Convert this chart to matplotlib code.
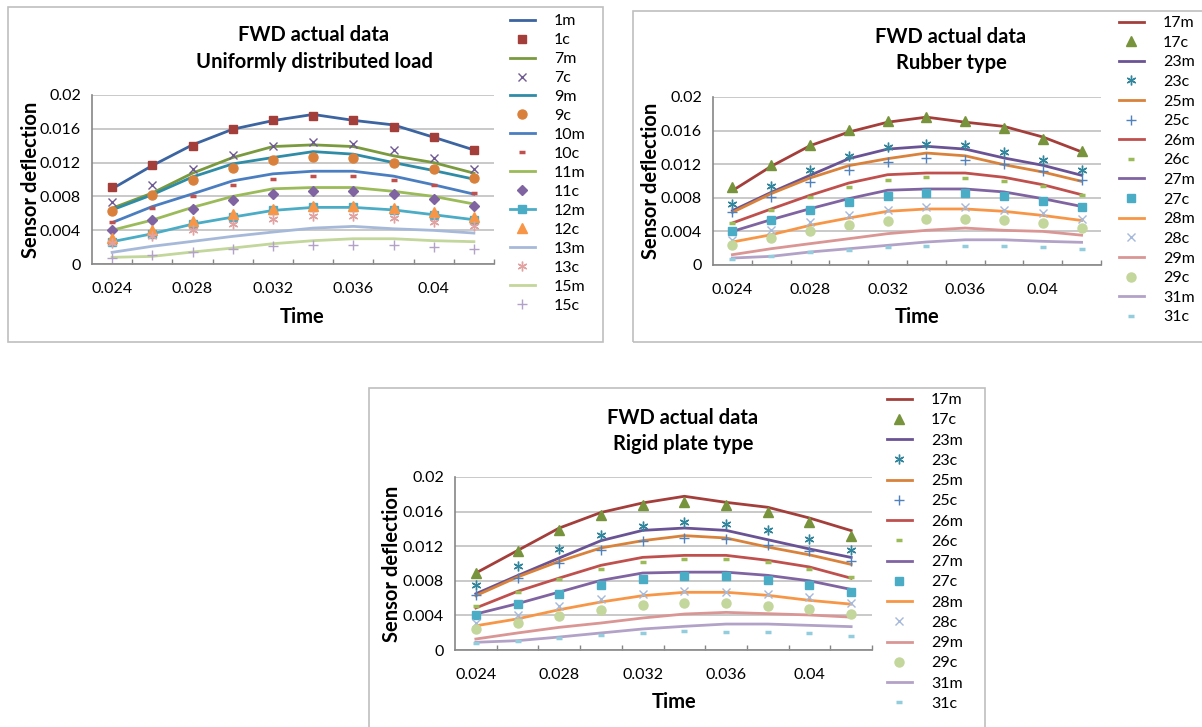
import numpy as np
import matplotlib.pyplot as plt
from matplotlib.patches import Rectangle

W, H = 1202, 727
plt.rcParams['font.family'] = ['Lato', 'DejaVu Sans']

times = [0.024, 0.026, 0.028, 0.030, 0.032, 0.034, 0.036, 0.038, 0.040, 0.042]
yticks = [0, 0.004, 0.008, 0.012, 0.016, 0.02]

# FWD actual data - uniformly distributed load (values in mm/1000 -> scaled below)
udl_1m = [8.9, 11.65, 14.1, 15.95, 16.97, 17.7, 17.0, 16.46, 15.0, 13.5]
udl_1c = [9.13, 11.7, 14.0, 15.95, 17.05, 17.5, 17.05, 16.26, 15.0, 13.5]
udl_7m = [6.6, 8.4, 10.75, 12.6, 13.9, 14.1, 13.9, 12.8, 12.0, 10.75]
udl_7c = [7.3, 9.4, 11.3, 12.9, 14.0, 14.4, 14.2, 13.5, 12.5, 11.3]
udl_9m = [6.4, 8.2, 10.3, 11.85, 12.6, 13.3, 13.0, 12.0, 11.06, 10.04]
udl_9c = [6.3, 8.15, 9.96, 11.4, 12.3, 12.7, 12.6, 12.0, 11.2, 10.15]
udl_10m = [4.9, 6.8, 8.3, 9.84, 10.67, 10.98, 10.98, 10.4, 9.37, 8.27]
udl_10c = [5.0, 6.6, 8.07, 9.33, 10.1, 10.47, 10.47, 9.96, 9.33, 8.46]
udl_11m = [4.0, 5.2, 6.7, 8.0, 8.9, 9.05, 9.05, 8.6, 8.0, 7.1]
udl_11c = [4.0, 5.2, 6.5, 7.56, 8.27, 8.6, 8.6, 8.27, 7.68, 6.9]
udl_12m = [2.64, 3.58, 4.72, 5.55, 6.34, 6.7, 6.7, 6.4, 5.83, 5.24]
udl_12c = [3.07, 4.0, 5.04, 5.9, 6.5, 6.9, 6.9, 6.6, 6.1, 5.55]
udl_13m = [1.38, 2.1, 2.68, 3.27, 3.78, 4.25, 4.45, 4.17, 3.98, 3.66]
udl_13c = [2.48, 3.27, 4.05, 4.76, 5.31, 5.63, 5.63, 5.43, 5.0, 4.45]
udl_15m = [0.79, 0.9, 1.42, 1.89, 2.4, 2.76, 2.99, 2.99, 2.76, 2.64]
udl_15c = [0.7, 1.1, 1.42, 1.77, 2.09, 2.2, 2.28, 2.2, 2.0, 1.77]

# FWD actual data - rubber type
rub_17m = [8.85, 11.75, 14.2, 15.83, 17.0, 17.6, 17.0, 16.5, 15.24, 13.47]
rub_17c = [9.25, 11.87, 14.25, 16.1, 17.2, 17.58, 17.2, 16.3, 15.0, 13.55]
rub_23m = [6.47, 8.65, 10.67, 12.66, 13.8, 14.13, 13.8, 12.74, 11.87, 10.68]
rub_23c = [7.26, 9.37, 11.27, 13.0, 14.0, 14.4, 14.25, 13.5, 12.54, 11.3]
rub_25m = [6.27, 8.5, 10.36, 11.83, 12.66, 13.33, 13.0, 11.94, 11.07, 9.96]
rub_25c = [6.27, 8.1, 9.88, 11.35, 12.22, 12.74, 12.54, 12.02, 11.15, 10.1]
rub_26m = [5.0, 6.67, 8.3, 9.76, 10.75, 10.95, 10.95, 10.44, 9.56, 8.37]
rub_26c = [5.0, 6.5, 8.05, 9.25, 10.1, 10.48, 10.36, 9.96, 9.37, 8.37]
rub_27m = [4.0, 5.4, 6.7, 7.9, 8.9, 9.05, 9.05, 8.7, 7.9, 6.97]
rub_27c = [4.0, 5.3, 6.5, 7.5, 8.25, 8.53, 8.53, 8.17, 7.66, 6.9]
rub_28m = [2.74, 3.6, 4.72, 5.6, 6.39, 6.67, 6.67, 6.39, 5.9, 5.3]
rub_28c = [3.0, 4.13, 5.12, 6.0, 6.6, 6.87, 6.87, 6.6, 6.2, 5.5]
rub_29m = [1.23, 1.94, 2.54, 3.13, 3.73, 4.13, 4.4, 4.13, 4.0, 3.55]
rub_29c = [2.42, 3.2, 4.0, 4.72, 5.28, 5.52, 5.52, 5.36, 5.0, 4.46]
rub_31m = [0.83, 1.03, 1.55, 1.94, 2.34, 2.74, 3.0, 3.0, 2.82, 2.7]
rub_31c = [0.75, 1.03, 1.5, 1.83, 2.1, 2.22, 2.3, 2.22, 2.1, 1.9]

# FWD actual data - rigid plate type
rig_17m = [8.9, 11.5, 14.1, 15.9, 17.0, 17.77, 17.07, 16.5, 15.26, 13.8]
rig_17c = [8.9, 11.5, 13.83, 15.65, 16.72, 17.1, 16.8, 15.95, 14.76, 13.2]
rig_23m = [6.5, 8.6, 10.64, 12.64, 13.83, 14.1, 13.83, 12.75, 11.68, 10.7]
rig_23c = [7.48, 9.67, 11.68, 13.33, 14.37, 14.8, 14.6, 13.9, 12.87, 11.6]
rig_25m = [6.28, 8.44, 10.25, 11.8, 12.64, 13.22, 12.95, 11.9, 11.0, 9.9]
rig_25c = [6.36, 8.32, 10.06, 11.6, 12.56, 12.9, 12.87, 12.18, 11.4, 10.3]
rig_26m = [4.86, 6.78, 8.32, 9.79, 10.71, 10.94, 10.94, 10.37, 9.6, 8.3]
rig_26c = [5.05, 6.67, 8.25, 9.36, 10.13, 10.56, 10.52, 10.13, 9.36, 8.4]
rig_27m = [4.16, 5.36, 6.7, 8.05, 8.9, 9.0, 9.0, 8.63, 8.0, 7.0]
rig_27c = [4.0, 5.3, 6.5, 7.48, 8.2, 8.5, 8.5, 8.13, 7.48, 6.75]
rig_28m = [2.8, 3.6, 4.66, 5.55, 6.28, 6.67, 6.67, 6.32, 5.74, 5.3]
rig_28c = [3.1, 4.08, 5.12, 5.9, 6.47, 6.78, 6.7, 6.47, 6.09, 5.4]
rig_29m = [1.27, 1.97, 2.62, 3.12, 3.7, 4.16, 4.35, 4.2, 4.05, 3.8]
rig_29c = [2.43, 3.12, 3.97, 4.66, 5.16, 5.43, 5.43, 5.12, 4.78, 4.2]
rig_31m = [0.89, 1.08, 1.5, 1.97, 2.43, 2.74, 3.0, 3.0, 2.85, 2.7]
rig_31c = [0.8, 1.08, 1.39, 1.77, 1.97, 2.16, 2.12, 2.08, 1.93, 1.6]

udl_series = [('1m', udl_1m), ('1c', udl_1c), ('7m', udl_7m), ('7c', udl_7c),
              ('9m', udl_9m), ('9c', udl_9c), ('10m', udl_10m), ('10c', udl_10c),
              ('11m', udl_11m), ('11c', udl_11c), ('12m', udl_12m), ('12c', udl_12c),
              ('13m', udl_13m), ('13c', udl_13c), ('15m', udl_15m), ('15c', udl_15c)]
rub_series = [('17m', rub_17m), ('17c', rub_17c), ('23m', rub_23m), ('23c', rub_23c),
              ('25m', rub_25m), ('25c', rub_25c), ('26m', rub_26m), ('26c', rub_26c),
              ('27m', rub_27m), ('27c', rub_27c), ('28m', rub_28m), ('28c', rub_28c),
              ('29m', rub_29m), ('29c', rub_29c), ('31m', rub_31m), ('31c', rub_31c)]
rig_series = [('17m', rig_17m), ('17c', rig_17c), ('23m', rig_23m), ('23c', rig_23c),
              ('25m', rig_25m), ('25c', rig_25c), ('26m', rig_26m), ('26c', rig_26c),
              ('27m', rig_27m), ('27c', rig_27c), ('28m', rig_28m), ('28c', rig_28c),
              ('29m', rig_29m), ('29c', rig_29c), ('31m', rig_31m), ('31c', rig_31c)]

# styles: colour, marker (None = plain line)
MK = {
    'sq': dict(marker='s', markersize=6),
    'x': dict(marker='x', markersize=6, markeredgewidth=1),
    'o': dict(marker='o', markersize=6.5),
    'dash': dict(marker='_', markersize=5, markeredgewidth=2.5),
    'D': dict(marker='D', markersize=5.5),
    '^': dict(marker='^', markersize=7),
    '*': dict(marker=(6, 2, 0), markersize=7, markeredgewidth=1),
    '+': dict(marker='+', markersize=7, markeredgewidth=1),
}
udl_style = {
    '1m': ('#3B64A0', None), '1c': ('#A33E3B', 'sq'),
    '7m': ('#7A9A3E', None), '7c': ('#6F5A94', 'x'),
    '9m': ('#2F8CA6', None), '9c': ('#D9813C', 'o'),
    '10m': ('#4A7EC0', None), '10c': ('#C0504D', 'dash'),
    '11m': ('#9BBB59', None), '11c': ('#8064A2', 'D'),
    '12m': ('#4BACC6', 'sq'), '12c': ('#F79646', '^'),
    '13m': ('#A7B9D9', None), '13c': ('#E0A3A2', '*'),
    '15m': ('#C3D69B', None), '15c': ('#B3A2C7', '+'),
}
plate_style = {
    '17m': ('#A33E3B', None), '17c': ('#77933C', '^'),
    '23m': ('#6A5394', None), '23c': ('#31859C', '*'),
    '25m': ('#D9823B', None), '25c': ('#4F81BD', '+'),
    '26m': ('#C0504D', None), '26c': ('#9BBB59', 'dash'),
    '27m': ('#8064A2', None), '27c': ('#4BACC6', 'sq'),
    '28m': ('#F79646', None), '28c': ('#A5B9DA', 'x'),
    '29m': ('#D99694', None), '29c': ('#C3D69B', 'o'),
    '31m': ('#B3A2C7', None), '31c': ('#93CDDD', 'dash'),
}

panels = [
    dict(series=udl_series, style=udl_style, sub='Uniformly distributed load',
         plot=(92, 95, 494, 264), box=(8, 7, 603, 342), title=(314, 35, 62),
         ylab=31, xlab=(302, 317), leg=(510, 14), spacing=0.3),
    dict(series=rub_series, style=plate_style, sub='Rubber type',
         plot=(713, 97, 1101, 265), box=(633, 11, 1210, 342), title=(951, 37, 63),
         ylab=651, xlab=(917, 317), leg=(1119, 16), spacing=0.34),
    dict(series=rig_series, style=plate_style, sub='Rigid plate type',
         plot=(455, 477, 872, 650), box=(369, 388, 985, 740), title=(683, 418, 444),
         ylab=392, xlab=(674, 702), leg=(887, 393), spacing=0.38),
]

fig = plt.figure(figsize=(W / 100, H / 100), dpi=100)


def fx(px):
    return px / W


def fy(py):
    return 1 - py / H


x = np.arange(len(times))
for p in panels:
    bx0, by0, bx1, by1 = p['box']
    fig.patches.append(Rectangle((fx(bx0), fy(by1)), fx(bx1 - bx0), (by1 - by0) / H,
                                 transform=fig.transFigure, facecolor='none',
                                 edgecolor='#BFBFBF', linewidth=1.2, zorder=-1))
    x0, y0, x1, y1 = p['plot']
    ax = fig.add_axes([fx(x0), fy(y1), fx(x1 - x0), (y1 - y0) / H])
    for lab, vals in p['series']:
        col, mk = p['style'][lab]
        v = np.array(vals) / 1000
        if lab.endswith('m'):
            kw = dict(MK[mk]) if mk else {}
            ax.plot(x, v, color=col, lw=2.0, label=lab, **kw)
        else:
            ax.plot(x, v, linestyle='none', color=col, label=lab, **MK[mk])
    ax.set_xlim(-0.5, len(times) - 0.5)
    ax.set_ylim(0, 0.02)
    ax.set_yticks(yticks)
    ax.set_yticklabels([f'{t:g}' for t in yticks])
    ax.set_xticks(x[::2])
    ax.set_xticklabels([f'{t:g}' for t in times[::2]])
    ax.set_xticks(x + 0.5, minor=True)
    ax.tick_params(axis='both', which='major', length=0, labelsize=11.5, colors='black')
    ax.tick_params(axis='y', pad=8)
    ax.tick_params(axis='x', pad=13)
    ax.tick_params(axis='x', which='minor', direction='in', length=3.5, color='#868686', width=1)
    ax.grid(axis='y', color='#C0C0C0', lw=1.2)
    ax.set_axisbelow(True)
    for s in ['top', 'right']:
        ax.spines[s].set_visible(False)
    for s in ['left', 'bottom']:
        ax.spines[s].set_color('#868686')
        ax.spines[s].set_linewidth(1.2)
    ax.patch.set_alpha(0)

    tx, ty1, ty2 = p['title']
    fig.text(fx(tx), fy(ty1), 'FWD actual data', ha='center', va='center',
             fontsize=14.5, fontweight='bold')
    fig.text(fx(tx), fy(ty2), p['sub'], ha='center', va='center',
             fontsize=14.5, fontweight='bold')
    fig.text(fx(p['ylab']), fy((y0 + y1) / 2), 'Sensor deflection', rotation=90,
             ha='center', va='center', fontsize=14.5, fontweight='bold')
    fig.text(fx(p['xlab'][0]), fy(p['xlab'][1]), 'Time', ha='center', va='center',
             fontsize=14.5, fontweight='bold')

    lx, ly = p['leg']
    ax.legend(loc='upper left', bbox_to_anchor=(fx(lx), fy(ly)),
              bbox_transform=fig.transFigure, frameon=False, fontsize=11.5,
              borderpad=0, borderaxespad=0, handlelength=1.55, handletextpad=1.2,
              labelspacing=p['spacing'], numpoints=1)

fig.savefig('out.png', dpi=100)
